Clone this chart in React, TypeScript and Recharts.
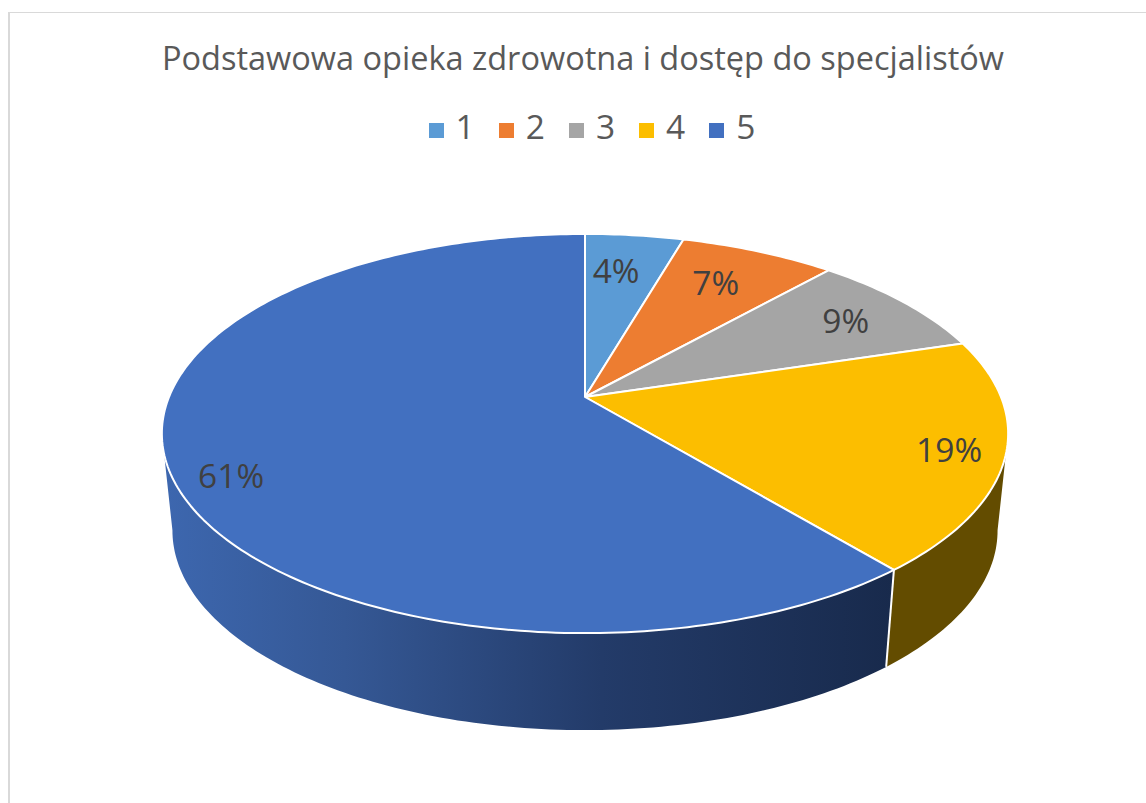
import React from "react";
import { PieChart, Pie, Cell, Legend } from "recharts";

const categories = ["1", "2", "3", "4", "5"];
const shares = [4.49, 7.1, 8.7, 18.7, 61.01];
const colors = ["#5B9BD5", "#ED7D31", "#A5A5A5", "#FCBE00", "#4270C0"];
const titleText = "Podstawowa opieka zdrowotna i dostęp do specjalistów";
const labelFractions = [0.7525, 0.758, 0.803, 0.873, 0.877];
const labelNudges = [-1.6, -1.2, 0, 0.5, -5.6];
const rows = categories.map((name, i) => ({ name, value: shares[i] }));

const K = 0.183;
const SQUASH = 192.9 / 416;
const WALL_DEPTH = 97;
const WALL_SX = 0.975;

// Tilted-disc projection: clock angle (deg) + radial fraction -> page position
function project(cx: number, cy: number, r: number, clockDeg: number, f = 1) {
  const a = (clockDeg * Math.PI) / 180;
  const u = Math.sin(a) * f;
  const v = -Math.cos(a) * f;
  const w = 1 - K * v;
  return { x: cx + (r * u) / w, y: cy + (r * SQUASH * v) / w };
}

function TiltedSlice(props: any) {
  const { cx, cy, outerRadius: r, startAngle, endAngle, fill, index } = props;
  const a0 = 90 - startAngle;
  const a1 = 90 - endAngle;
  const n = Math.max(8, Math.ceil(Math.abs(a1 - a0)));
  const pts: string[] = [];
  for (let i = 0; i <= n; i++) {
    const p = project(cx, cy, r, a0 + ((a1 - a0) * i) / n);
    pts.push(`${p.x.toFixed(2)} ${p.y.toFixed(2)}`);
  }
  const top = `M${cx} ${cy}L${pts.join("L")}Z`;

  // side wall on the near half of the disc only
  const from = Math.max(a0, 100.5);
  const to = Math.min(a1, 259.5);
  let wall: React.ReactNode = null;
  if (to > from) {
    const m = Math.ceil(to - from);
    const upper: string[] = [];
    const lower: string[] = [];
    for (let i = 0; i <= m; i++) {
      const p = project(cx, cy, r, from + ((to - from) * i) / m);
      upper.push(`${p.x.toFixed(2)} ${p.y.toFixed(2)}`);
      lower.unshift(`${(cx + (p.x - cx) * WALL_SX).toFixed(2)} ${(p.y + WALL_DEPTH).toFixed(2)}`);
    }
    const e = project(cx, cy, r, from);
    const showSeam = a0 >= 100.5;
    wall = (
      <g>
        <path
          d={`M${upper.join("L")}L${lower.join("L")}Z`}
          fill={index === 4 ? "url(#wallBlue)" : "#634C00"}
        />
        {showSeam && (
          <line
            x1={e.x}
            y1={e.y}
            x2={cx + (e.x - cx) * WALL_SX}
            y2={e.y + WALL_DEPTH}
            stroke="#fff"
            strokeWidth={2}
          />
        )}
      </g>
    );
  }
  return (
    <g>
      {wall}
      <path d={top} fill={fill} stroke="#fff" strokeWidth={2} strokeLinejoin="round" />
    </g>
  );
}

function sliceLabel(props: any) {
  const { cx, cy, outerRadius: r, midAngle, percent, index } = props;
  const p = project(cx, cy, r, 90 - midAngle + labelNudges[index], labelFractions[index]);
  return (
    <text
      x={p.x}
      y={p.y}
      textAnchor="middle"
      dominantBaseline="central"
      fontFamily="'Open Sans', sans-serif"
      fontSize={33.5}
      fill="#404040"
    >
      {`${Math.round(percent * 100)}%`}
    </text>
  );
}

export default function App() {
  return (
    <div style={{ position: "absolute", left: 0, top: 0, width: 1146, height: 803, background: "#fff", overflow: "hidden" }}>
      <div
        style={{
          position: "absolute",
          left: 8,
          top: 12,
          width: 1146,
          height: 803,
          borderLeft: "2px solid #D9D9D9",
          borderTop: "1px solid #D9D9D9",
        }}
      />
      <PieChart width={1146} height={803} style={{ position: "absolute", left: 0, top: 0 }}>
        <defs>
          <linearGradient id="wallBlue" x1="0" y1="0" x2="1" y2="0">
            <stop offset="0%" stopColor="#3D67AF" />
            <stop offset="25%" stopColor="#355895" />
            <stop offset="60%" stopColor="#233B69" />
            <stop offset="100%" stopColor="#182A4C" />
          </linearGradient>
        </defs>
        <text
          x={583}
          y={57}
          textAnchor="middle"
          dominantBaseline="central"
          fontFamily="'Open Sans', sans-serif"
          fontSize={32.5}
          fill="#595959"
        >
          {titleText}
        </text>
        <Legend
          layout="horizontal"
          verticalAlign="top"
          align="center"
          iconType="square"
          iconSize={15}
          wrapperStyle={{ top: 103, left: 13, width: 1182, fontFamily: "'Open Sans', sans-serif", fontSize: 33.5 }}
          formatter={(value: string) => (
            <span style={{ color: "#595959", marginLeft: 8, marginRight: 14 }}>{value}</span>
          )}
        />
        <Pie
          data={rows}
          dataKey="value"
          nameKey="name"
          cx={580}
          cy={346}
          outerRadius={416}
          startAngle={90}
          endAngle={-270}
          paddingAngle={0}
          isAnimationActive={false}
          shape={TiltedSlice}
          label={sliceLabel}
          labelLine={false}
        >
          {rows.map((row, i) => (
            <Cell key={row.name} fill={colors[i]} />
          ))}
        </Pie>
      </PieChart>
    </div>
  );
}
